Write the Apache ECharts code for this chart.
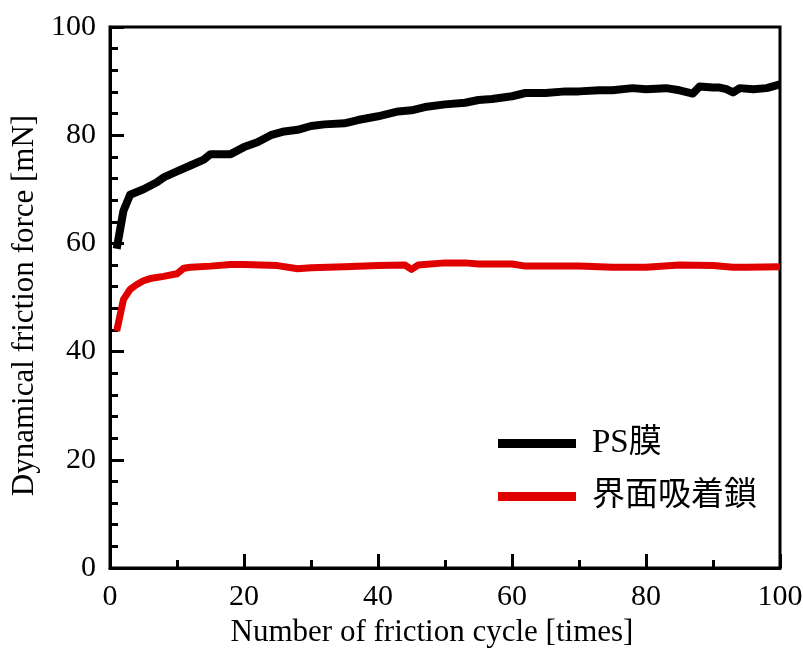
<!DOCTYPE html>
<html><head><meta charset="utf-8">
<script src="https://cdn.jsdelivr.net/npm/echarts@6/dist/echarts.min.js"></script>
<style>html,body{margin:0;padding:0;background:#fff}#c{width:803px;height:652px}</style>
</head><body><div id="c"></div>
<script>
const psCycles = [1,2,3,5,7,8,10,12,14,15,18,20,22,24,26,28,30,32,35,37,40,43,45,47,50,53,55,57,60,62,65,68,70,73,75,78,80,83,85,87,88,90,91,92,93,94,96,98,100];
const psForce  = [59,66,69,70,71.3,72.2,73.3,74.4,75.5,76.5,76.5,77.8,78.7,80,80.7,81,81.7,82,82.2,82.8,83.5,84.4,84.6,85.2,85.7,86,86.5,86.7,87.2,87.8,87.8,88.1,88.1,88.3,88.3,88.7,88.5,88.7,88.3,87.7,89,88.8,88.8,88.5,87.9,88.7,88.5,88.7,89.4];
const ifCycles = [1,2,3,4,5,6,8,10,11,12,15,18,20,25,28,30,35,40,44,45,46,50,53,55,60,62,65,70,75,80,85,90,93,95,100];
const ifForce  = [43.8,49.6,51.5,52.4,53.1,53.5,53.9,54.4,55.4,55.6,55.8,56.1,56.1,55.9,55.3,55.5,55.7,55.9,56,55.2,56,56.4,56.4,56.2,56.2,55.8,55.8,55.8,55.6,55.6,56,55.9,55.6,55.6,55.7];
const seriesNames = ['PS膜','界面吸着鎖'];
const xTicks = {min:0,max:100,interval:20};
const yTicks = {min:0,max:100,interval:20};

const zip = (a,b)=>a.map((v,i)=>[v,b[i]]);
const font = '"Liberation Serif","Noto Sans CJK JP",serif';
const chart = echarts.init(document.getElementById('c'));
chart.setOption({
  animation:false,
  grid:{left:110,right:23,top:27,bottom:84,outerBoundsMode:'none',containLabel:false,show:true,borderColor:'#000',borderWidth:3,backgroundColor:'transparent'},
  xAxis:{type:'value',min:xTicks.min,max:xTicks.max,interval:xTicks.interval,
    name:'Number of friction cycle [times]',nameLocation:'middle',nameGap:39,
    nameTextStyle:{fontFamily:font,fontSize:31,color:'#000',padding:[0,26,0,0]},
    axisLine:{lineStyle:{color:'#000',width:3}},
    axisTick:{inside:true,length:14,lineStyle:{width:3,color:'#000'}},
    minorTick:{show:true,splitNumber:2,length:8,lineStyle:{width:3,color:'#000'}},
    axisLabel:{fontFamily:font,fontSize:30,color:'#000',margin:14},
    splitLine:{show:false}},
  yAxis:{type:'value',min:yTicks.min,max:yTicks.max,interval:yTicks.interval,
    name:'Dynamical friction force [mN]',nameLocation:'middle',nameGap:69,
    nameTextStyle:{fontFamily:font,fontSize:31,color:'#000',padding:[0,16,0,0]},
    axisLine:{show:true,lineStyle:{color:'#000',width:3}},
    axisTick:{inside:true,length:14,lineStyle:{width:3,color:'#000'}},
    minorTick:{show:true,splitNumber:5,length:8,lineStyle:{width:3,color:'#000'}},
    axisLabel:{fontFamily:font,fontSize:30,color:'#000',margin:14},
    splitLine:{show:false}},
  legend:{orient:'vertical',left:493,top:422,itemWidth:78,itemHeight:9,itemGap:20,icon:'rect',
    textStyle:{fontFamily:font,fontSize:33,color:'#000',padding:[0,0,0,11]},
    data:[{name:seriesNames[0],itemStyle:{color:'#000'}},{name:seriesNames[1],itemStyle:{color:'#e00000'}}]},
  series:[
    {name:seriesNames[0],type:'line',data:zip(psCycles,psForce),showSymbol:false,symbol:'none',
     lineStyle:{color:'#000',width:8,join:'round'},itemStyle:{color:'#000'}},
    {name:seriesNames[1],type:'line',data:zip(ifCycles,ifForce),showSymbol:false,symbol:'none',
     lineStyle:{color:'#e00000',width:7,join:'round'},itemStyle:{color:'#e00000'}}
  ]
});
</script></body></html>
